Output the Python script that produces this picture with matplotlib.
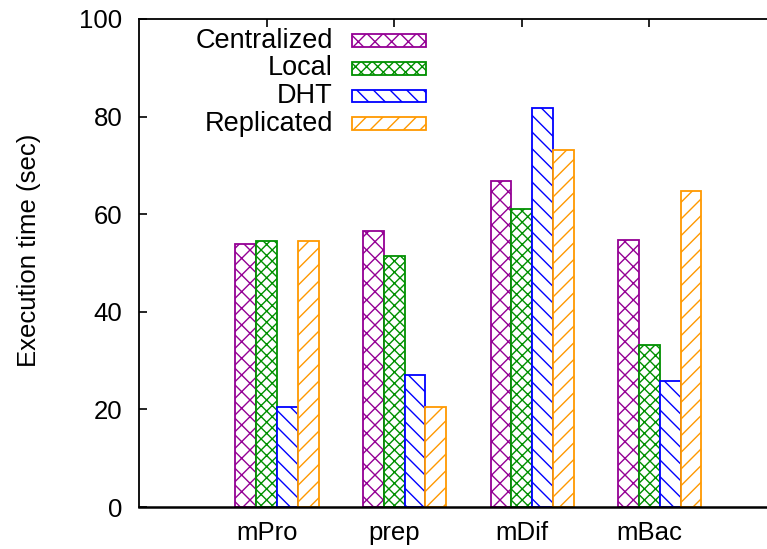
"""Execution time per stage for the four data placement strategies."""

import matplotlib
matplotlib.use("Agg")
import matplotlib.pyplot as plt
import numpy as np
from matplotlib.patches import Rectangle


STAGES = ["mPro", "prep", "mDif", "mBac"]
SERIES = ["Centralized", "Local", "DHT", "Replicated"]

CENTRALIZED = [53.9, 56.5, 66.8, 54.7]
LOCAL = [54.5, 51.5, 61.0, 33.2]
DHT = [20.5, 27.0, 81.7, 25.8]
REPLICATED = [54.5, 20.5, 73.1, 64.8]

COLORS = ["#940094", "#009000", "#0000ff", "#ff9900"]
HATCHES = ["xx", "xxx", "\\\\", "//"]

plt.rcParams["font.family"] = ["Liberation Sans", "DejaVu Sans"]
plt.rcParams["hatch.linewidth"] = 1.0

fig = plt.figure(figsize=(7.67, 5.49), dpi=100)
# right spine sits just outside the canvas, like the original
ax = fig.add_axes([0.1812, 0.0765, 0.8318, 0.8889])

x = np.arange(len(STAGES))
width = 0.163
values = [CENTRALIZED, LOCAL, DHT, REPLICATED]

for i, (vals, color, hatch) in enumerate(zip(values, COLORS, HATCHES)):
    ax.bar(x + (i - 1) * width, vals, width, facecolor="white", edgecolor=color,
           hatch=hatch, linewidth=1.3)

ax.set_xlim(-1, 4)
ax.set_ylim(0, 100)
ax.set_xticks(x)
ax.set_xticklabels(STAGES)
ax.set_yticks(np.arange(0, 101, 20))
ax.tick_params(direction="in", length=6, width=1.2, labelsize=18.5,
               top=True, right=True)
ax.tick_params(axis="x", bottom=False, pad=10)
ax.tick_params(axis="y", pad=12)
ax.set_ylabel("Execution time (sec)", fontsize=18.5)
ax.yaxis.set_label_coords(-0.153, 0.527)
for side in ax.spines.values():
    side.set_linewidth(1.3)
ax.spines["bottom"].set_linewidth(1.8)

# gnuplot-style key: right-aligned text, swatch to its right
row_top = 0.955
row_step = 0.0564
for i, (name, color, hatch) in enumerate(zip(SERIES, COLORS, HATCHES)):
    yc = row_top - i * row_step
    ax.text(0.304, yc, name, transform=ax.transAxes, ha="right", va="center",
            fontsize=19.5)
    ax.add_patch(Rectangle((0.334, yc - 0.0133), 0.116, 0.0266,
                           transform=ax.transAxes, facecolor="white",
                           edgecolor=color, hatch=hatch, linewidth=1.3,
                           clip_on=False))

fig.savefig("out.png", dpi=100)
